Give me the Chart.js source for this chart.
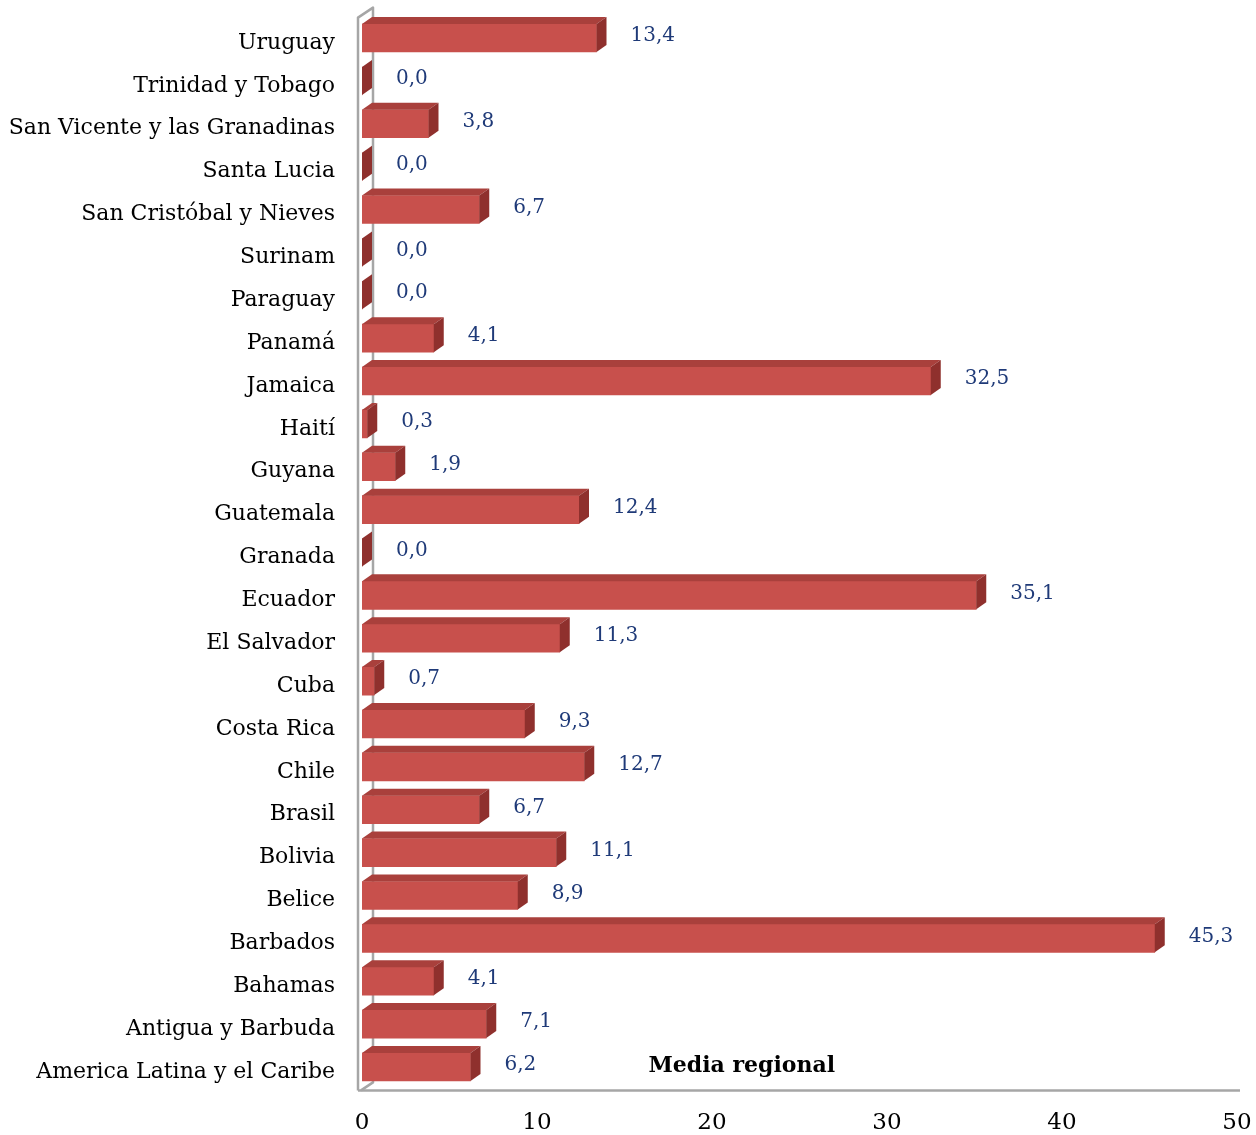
<!DOCTYPE html>
<html>
<head>
<meta charset="utf-8">
<script src="https://cdn.jsdelivr.net/npm/chart.js@4/dist/chart.umd.min.js"></script>
<style>
  html, body { margin: 0; padding: 0; background: #ffffff; }
  #wrap { position: relative; width: 1256px; height: 1135px; }
</style>
</head>
<body>
<div id="wrap"><canvas id="chart"></canvas></div>
<script>
// Countries, top to bottom
const countries = [
  'Uruguay', 'Trinidad y Tobago', 'San Vicente y las Granadinas', 'Santa Lucia',
  'San Cristóbal y Nieves', 'Surinam', 'Paraguay', 'Panamá', 'Jamaica', 'Haití',
  'Guyana', 'Guatemala', 'Granada', 'Ecuador', 'El Salvador', 'Cuba', 'Costa Rica',
  'Chile', 'Brasil', 'Bolivia', 'Belice', 'Barbados', 'Bahamas', 'Antigua y Barbuda',
  'America Latina y el Caribe'
];
const values = [
  13.4, 0.0, 3.8, 0.0,
  6.7, 0.0, 0.0, 4.1, 32.5, 0.3,
  1.9, 12.4, 0.0, 35.1, 11.3, 0.7, 9.3,
  12.7, 6.7, 11.1, 8.9, 45.3, 4.1, 7.1,
  6.2
];
const xTicks = [0, 10, 20, 30, 40, 50];
const regionalLabel = 'Media regional';

const SERIF = '"DejaVu Serif", "Liberation Serif", serif';
const VALUE_COLOR = '#1f3a78';
const DEPTH_X = 10, DEPTH_Y = 7;

const fmt = v => v.toFixed(1).replace('.', ',');

// Side wall and floor of the 3D plot box
const boxPlugin = {
  id: 'box3d',
  beforeDatasetsDraw(chart) {
    const { ctx, chartArea: a } = chart;
    ctx.save();
    ctx.strokeStyle = '#a6a6a6';
    ctx.lineWidth = 2.5;
    ctx.lineJoin = 'round';
    const xo = a.left - 4, xi = a.left + 11;
    const yb = a.bottom + 2;
    ctx.beginPath();
    ctx.moveTo(xo, yb);
    ctx.lineTo(xo, a.top + 1);
    ctx.lineTo(xi, a.top - 9);
    ctx.lineTo(xi, yb - 8);
    ctx.lineTo(xo + 3, yb);
    ctx.stroke();
    ctx.beginPath();
    ctx.moveTo(xo, yb);
    ctx.lineTo(a.right + 3, yb);
    ctx.stroke();
    ctx.restore();
  }
};

// Top and end faces of each bar, plus value labels
const barPlugin = {
  id: 'bar3d',
  afterDatasetsDraw(chart) {
    const { ctx } = chart;
    const meta = chart.getDatasetMeta(0);
    ctx.save();
    meta.data.forEach((bar, i) => {
      const p = bar.getProps(['x', 'y', 'base', 'height'], true);
      const top = p.y - p.height / 2, bot = p.y + p.height / 2;
      // top face
      ctx.fillStyle = '#a9403c';
      ctx.beginPath();
      ctx.moveTo(p.base, top);
      ctx.lineTo(p.base + DEPTH_X, top - DEPTH_Y);
      ctx.lineTo(p.x + DEPTH_X, top - DEPTH_Y);
      ctx.lineTo(p.x, top);
      ctx.closePath();
      ctx.fill();
      // end face
      ctx.fillStyle = '#8f302d';
      ctx.beginPath();
      ctx.moveTo(p.x, top);
      ctx.lineTo(p.x + DEPTH_X, top - DEPTH_Y);
      ctx.lineTo(p.x + DEPTH_X, bot - DEPTH_Y);
      ctx.lineTo(p.x, bot);
      ctx.closePath();
      ctx.fill();
      // value label
      ctx.fillStyle = VALUE_COLOR;
      ctx.font = '20px ' + SERIF;
      ctx.textAlign = 'left';
      ctx.textBaseline = 'middle';
      ctx.fillText(fmt(values[i]), p.x + 34, p.y - 2);
    });
    // regional average caption beside the last bar
    const xs = chart.scales.x, ys = chart.scales.y;
    ctx.fillStyle = '#000000';
    ctx.font = 'bold 22px ' + SERIF;
    ctx.textAlign = 'center';
    ctx.textBaseline = 'middle';
    ctx.fillText(regionalLabel, xs.getPixelForValue(21.7), ys.getPixelForValue(countries.length - 1) - 1);
    ctx.restore();
  }
};

function noPad(s) {
  s.paddingTop = 0; s.paddingBottom = 0; s.paddingLeft = 0; s.paddingRight = 0;
}

const ctx = document.getElementById('chart').getContext('2d');
new Chart(ctx, {
  type: 'bar',
  data: {
    labels: countries,
    datasets: [{
      data: values,
      barThickness: 28,
      backgroundColor(c) {
        const chart = c.chart;
        const el = chart.getDatasetMeta(0).data[c.dataIndex];
        const y = el ? el.y : NaN;
        if (!Number.isFinite(y)) return '#c8504c';
        const g = chart.ctx.createLinearGradient(0, y - 14, 0, y + 14);
        g.addColorStop(0, '#c14844');
        g.addColorStop(0.5, '#d05a55');
        g.addColorStop(1, '#c34a46');
        return g;
      },
      borderWidth: 0
    }]
  },
  options: {
    indexAxis: 'y',
    responsive: true,
    maintainAspectRatio: false,
    animation: false,
    layout: { padding: { top: 16.6, right: 19, left: 0, bottom: 0 } },
    plugins: { legend: { display: false }, tooltip: { enabled: false } },
    scales: {
      x: {
        min: 0, max: 50,
        afterBuildTicks(s) { s.ticks = xTicks.map(v => ({ value: v })); },
        afterFit(s) { s.height = 46.6; noPad(s); },
        grid: { display: false, drawTicks: false },
        border: { display: false },
        ticks: { color: '#000000', font: { family: SERIF, size: 23 }, padding: 21, maxRotation: 0 }
      },
      y: {
        afterFit(s) { s.width = 362; noPad(s); },
        grid: { display: false, drawTicks: false },
        border: { display: false },
        ticks: { color: '#000000', font: { family: SERIF, size: 22 }, padding: 27, labelOffset: 5, autoSkip: false }
      }
    }
  },
  plugins: [boxPlugin, barPlugin]
});
</script>
</body>
</html>
